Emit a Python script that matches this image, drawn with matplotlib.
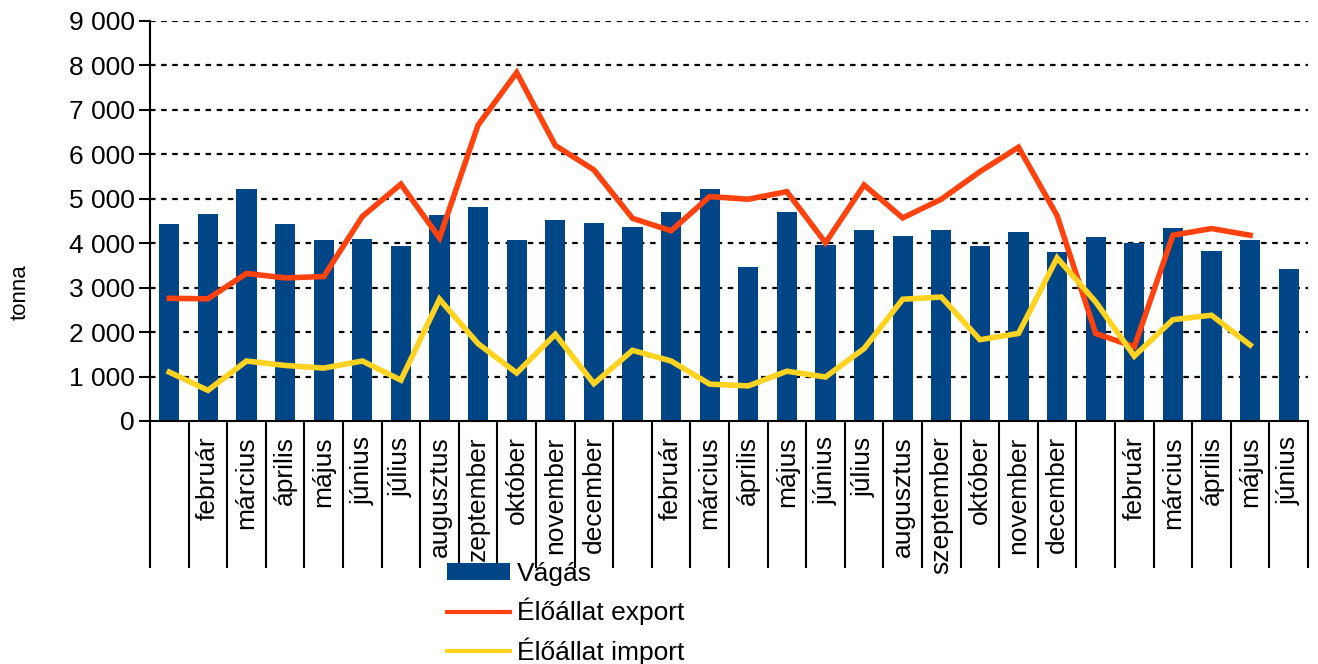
import numpy as np
import matplotlib
matplotlib.use("Agg")
import matplotlib.pyplot as plt

plt.rcParams["font.family"] = ["Liberation Sans", "DejaVu Sans"]

# month labels (January columns are left blank in the original)
months = ["", "február", "március", "április", "május", "június", "július",
          "augusztus", "zeptember", "október", "november", "december",
          "", "február", "március", "április", "május", "június", "július",
          "augusztus", "szeptember", "október", "november", "december",
          "", "február", "március", "április", "május", "június"]

# tonnes
vagas = [4430, 4660, 5220, 4430, 4070, 4090, 3930, 4640, 4810, 4070,
         4520, 4450, 4360, 4700, 5220, 3460, 4700, 3960, 4300, 4160,
         4300, 3930, 4250, 3800, 4140, 4000, 4340, 3820, 4070, 3420]
export = [2760, 2750, 3320, 3220, 3250, 4600, 5330, 4120, 6660, 7840,
          6200, 5650, 4560, 4280, 5050, 4990, 5160, 4010, 5310, 4570,
          4990, 5610, 6160, 4620, 1970, 1670, 4180, 4330, 4180]
import_ = [1100, 690, 1350, 1250, 1190, 1350, 920, 2740, 1740, 1080,
           1950, 840, 1590, 1350, 830, 790, 1120, 990, 1630, 2740,
           2790, 1830, 1970, 3670, 2680, 1460, 2280, 2380, 1710]

BLUE = "#004586"
RED = "#ff420e"
YELLOW = "#ffd320"

fig = plt.figure(figsize=(13.18, 6.64), dpi=100)
ax = fig.add_axes([150 / 1318, 243 / 664, 1158 / 1318, 400 / 664])

x = np.arange(len(months))
bars = ax.bar(x, vagas, width=0.52, color=BLUE, label="Vágás", zorder=2)
l_exp, = ax.plot(np.arange(len(export)), export, color=RED, lw=4,
                 label="Élőállat export", zorder=3, solid_joinstyle="miter")
l_imp, = ax.plot(np.arange(len(import_)), import_, color=YELLOW, lw=4,
                 label="Élőállat import", zorder=3, solid_joinstyle="miter")

ax.set_xlim(-0.5, len(months) - 0.5)
ax.set_ylim(0, 9000)

# y axis
yt = np.arange(0, 9001, 1000)
ax.set_yticks(yt)
ax.set_yticklabels([f"{v:,}".replace(",", " ") for v in yt], fontsize=19)
ax.tick_params(axis="y", length=8, width=1.5, pad=3, direction="out")
for v in yt[1:]:
    ax.axhline(v, color="black", lw=1.6, ls=(0, (2.5, 2.5)), zorder=1)

# x axis: labels at centres, long separator ticks at boundaries
ax.set_xticks(x)
ax.set_xticklabels(months, rotation=90, fontsize=19, va="top", ha="center")
ax.tick_params(axis="x", which="major", length=0, pad=11)
ax.set_xticks(np.arange(-0.5, len(months)), minor=True)
ax.tick_params(axis="x", which="minor", length=106, width=1.5,
               direction="out")

for s in ("top", "right"):
    ax.spines[s].set_visible(False)
for s in ("left", "bottom"):
    ax.spines[s].set_linewidth(1.5)

fig.text(20 / 1318, 1 - 292 / 664, "tonna", rotation=90, fontsize=16,
         ha="center", va="center")

leg = ax.legend([bars, l_exp, l_imp],
                ["Vágás", "Élőállat export", "Élőállat import"],
                loc="upper left", bbox_to_anchor=(447 / 1318, 1 - 562 / 664),
                bbox_transform=fig.transFigure, frameon=False, fontsize=19,
                handlelength=2.4, handleheight=0.6, handletextpad=0.25,
                labelspacing=0.45, borderpad=0, borderaxespad=0)
for h in leg.get_lines():
    h.set_linewidth(3)

fig.savefig("out.png", dpi=100)
